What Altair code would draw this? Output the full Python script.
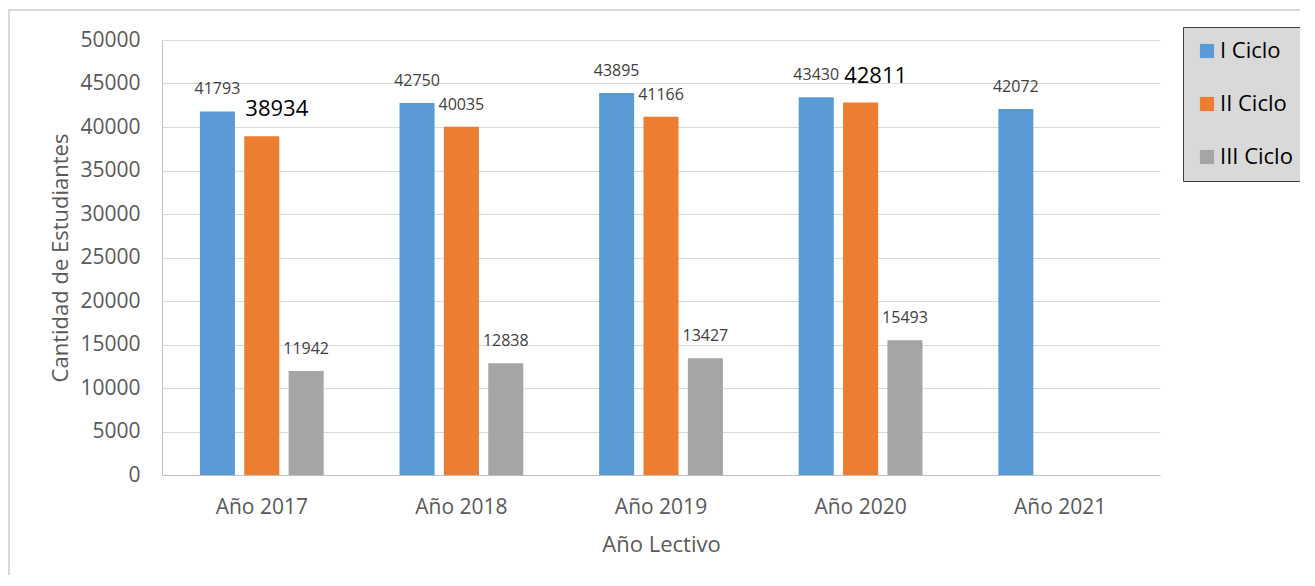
import altair as alt
import pandas as pd

years = ["Año 2017", "Año 2018", "Año 2019", "Año 2020", "Año 2021"]
series = ["I Ciclo", "II Ciclo", "III Ciclo"]
i_ciclo = [41793, 42750, 43895, 43430, 42072]
ii_ciclo = [38934, 40035, 41166, 42811, None]
iii_ciclo = [11942, 12838, 13427, 15493, None]
highlighted = [38934, 42811]
colors = ["#5b9bd5", "#ed7d31", "#a5a5a5"]

rows = []
for s, vals in zip(series, [i_ciclo, ii_ciclo, iii_ciclo]):
    for y, v in zip(years, vals):
        if v is not None:
            rows.append({"year": y, "serie": s, "value": v})
df = pd.DataFrame(rows)

FONT = "Open Sans"

x_enc = alt.X("year:N", sort=years, title="Año Lectivo",
              scale=alt.Scale(paddingInner=0.38, paddingOuter=0.19),
              axis=alt.Axis(labelAngle=0, tickSize=0, labelPadding=21,
                            titlePadding=17, domainColor="#bfbfbf",
                            labelFontSize=21, titleFontSize=22,
                            labelColor="#595959", titleColor="#595959",
                            labelFont=FONT, titleFont=FONT, titleFontWeight="normal"))
xoff = alt.XOffset("serie:N", sort=series,
                   scale=alt.Scale(domain=series, paddingInner=0.21, paddingOuter=0))
y_enc = alt.Y("value:Q", title="Cantidad de Estudiantes",
              scale=alt.Scale(domain=[0, 50000], nice=False),
              axis=alt.Axis(values=list(range(0, 50001, 5000)), format="d", tickSize=0,
                            labelPadding=22, titlePadding=7, domainColor="#bfbfbf",
                            gridColor="#d9d9d9", labelFontSize=21, titleFontSize=22,
                            labelColor="#595959", titleColor="#595959",
                            labelFont=FONT, titleFont=FONT, titleFontWeight="normal"))

base = alt.Chart(df)

bars = base.mark_bar().encode(
    x=x_enc, xOffset=xoff, y=y_enc,
    color=alt.Color("serie:N", sort=series, title=None,
                    scale=alt.Scale(domain=series, range=colors),
                    legend=alt.Legend(orient="none", legendX=1021, legendY=-13,
                                      fillColor="#d9d9d9", strokeColor="#404040",
                                      padding=13, rowPadding=31, symbolType="square",
                                      symbolSize=200, symbolStrokeWidth=0,
                                      labelFontSize=22, labelFont=FONT,
                                      labelColor="#000000", labelOffset=2)),
)

is_big = alt.FieldOneOfPredicate(field="value", oneOf=highlighted)

small_labels = base.transform_filter(~is_big).mark_text(
    dy=-22, font=FONT, fontSize=16, color="#404040"
).encode(x=alt.X("year:N", sort=years), xOffset=xoff, y="value:Q", text="value:Q")

big_labels = base.transform_filter(is_big).mark_text(
    dy=-27, dx=15, font=FONT, fontSize=22, color="#000000"
).encode(x=alt.X("year:N", sort=years), xOffset=xoff, y="value:Q", text="value:Q")

frame = alt.Chart(pd.DataFrame({"a": [0]})).mark_rect(
    filled=False, stroke="#d9d9d9", strokeWidth=2
).encode(x=alt.value(-153), y=alt.value(-30), x2=alt.value(1170), y2=alt.value(600))

chart = alt.layer(frame, bars, small_labels, big_labels).properties(
    width=998, height=435,
    autosize=alt.AutoSizeParams(type="none"),
    padding={"left": 154, "top": 32, "right": 140, "bottom": 100},
).configure_view(stroke=None).configure_axisX(grid=False)

chart.save("out.html", embed_options={"renderer": "svg", "actions": False})
